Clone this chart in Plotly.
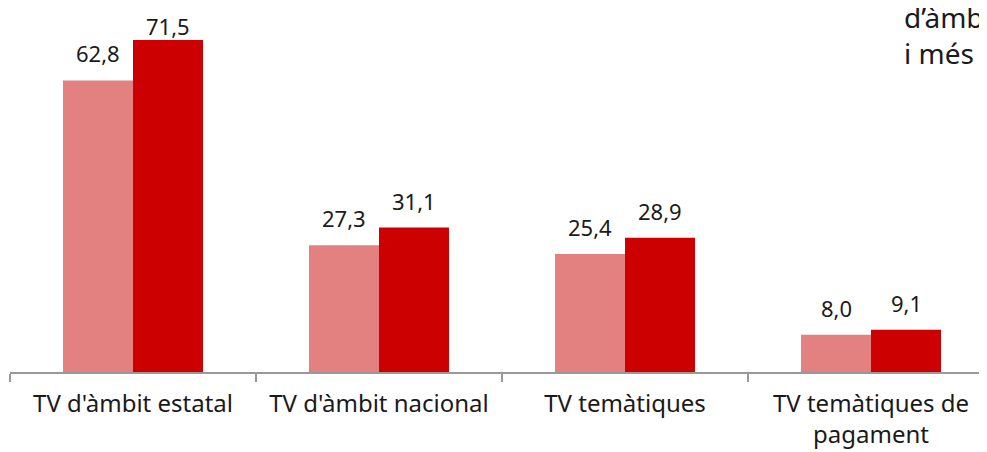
import plotly.graph_objects as go

categories = ["TV d'àmbit estatal", "TV d'àmbit nacional", "TV temàtiques", "TV temàtiques de<br>pagament"]
series_a = [62.8, 27.3, 25.4, 8.0]
series_b = [71.5, 31.1, 28.9, 9.1]
legend_fragments = ["d’àmbit", "i més"]

def fmt(v):
    return f"{v:.1f}".replace(".", ",")

font_family = "Noto Sans, Open Sans, sans-serif"
plot_h = 364  # plot area height in px
Y_MAX = 78.4
label_cap = Y_MAX - 9.6  # labels are kept inside the chart area (like the original)
colors = ["#E38080", "#CC0000"]

fig = go.Figure()
for vals, col in zip([series_a, series_b], colors):
    fig.add_trace(go.Bar(x=categories, y=vals, marker_color=col, marker_line_width=0,
                         showlegend=False, hoverinfo="x+y"))

# value labels above each bar
for vals, shift in zip([series_a, series_b], [-35, 35]):
    for cat, v in zip(categories, vals):
        fig.add_annotation(x=cat, y=min(v, label_cap), xref="x", yref="y", text=fmt(v), showarrow=False,
                           xshift=shift, yanchor="bottom", yshift=10,
                           font=dict(size=22, color="#1a1a1a", family=font_family))

fig.update_layout(
    width=987, height=452,
    margin=dict(l=2, r=0, t=0, b=452 - plot_h),
    paper_bgcolor="white", plot_bgcolor="white",
    barmode="group", bargap=0.431, bargroupgap=0,
    font=dict(family=font_family, size=22, color="#1a1a1a"),
    xaxis=dict(range=[-0.5, 3.504], tickson="boundaries", ticks="outside", ticklen=8,
               tickcolor="#999999", tickwidth=1.5, showline=True, linecolor="#999999", linewidth=1.5,
               showgrid=False, tickfont=dict(size=24, color="#1a1a1a", family=font_family),
               ticklabelstandoff=9),
    yaxis=dict(range=[0, Y_MAX], visible=False, showgrid=False),
)

fig.add_annotation(text=legend_fragments[0], xref="paper", yref="paper", x=892 / 985, y=1 - 9 / plot_h,
                   xanchor="left", yanchor="middle", showarrow=False,
                   font=dict(size=28, color="#1a1a1a", family=font_family))
fig.add_annotation(text=legend_fragments[1], xref="paper", yref="paper", x=892 / 985, y=1 - 45 / plot_h,
                   xanchor="left", yanchor="middle", showarrow=False,
                   font=dict(size=28, color="#1a1a1a", family=font_family))

fig.write_html("out.html")
